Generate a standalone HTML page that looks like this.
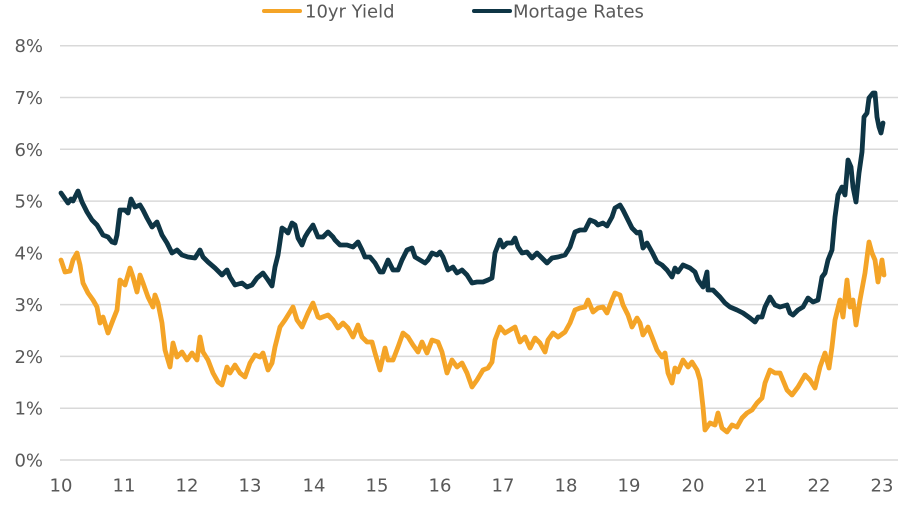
<!DOCTYPE html>
<html>
<head>
<meta charset="utf-8">
<style>
html,body{margin:0;padding:0;background:#fff;}
svg{display:block;}
text{font-family:"DejaVu Sans","Liberation Sans",sans-serif;font-size:18px;fill:#595959;}
</style>
</head>
<body>
<svg width="916" height="508" viewBox="0 0 916 508" xmlns="http://www.w3.org/2000/svg">
<g stroke="#d9d9d9" stroke-width="1.5">
<line x1="60" y1="45.7" x2="898" y2="45.7"/>
<line x1="60" y1="97.5" x2="898" y2="97.5"/>
<line x1="60" y1="149.3" x2="898" y2="149.3"/>
<line x1="60" y1="201.1" x2="898" y2="201.1"/>
<line x1="60" y1="252.9" x2="898" y2="252.9"/>
<line x1="60" y1="304.6" x2="898" y2="304.6"/>
<line x1="60" y1="356.4" x2="898" y2="356.4"/>
<line x1="60" y1="408.2" x2="898" y2="408.2"/>
<line x1="60" y1="460" x2="898" y2="460"/>
</g>
<g text-anchor="end">
<text x="43" y="52">8%</text>
<text x="43" y="104">7%</text>
<text x="43" y="156">6%</text>
<text x="43" y="207.5">5%</text>
<text x="43" y="259.5">4%</text>
<text x="43" y="311">3%</text>
<text x="43" y="363">2%</text>
<text x="43" y="414.5">1%</text>
<text x="43" y="466.5">0%</text>
</g>
<g text-anchor="middle">
<text x="61" y="491.5">10</text>
<text x="124" y="491.5">11</text>
<text x="187" y="491.5">12</text>
<text x="250" y="491.5">13</text>
<text x="314" y="491.5">14</text>
<text x="377" y="491.5">15</text>
<text x="440" y="491.5">16</text>
<text x="503" y="491.5">17</text>
<text x="566" y="491.5">18</text>
<text x="629" y="491.5">19</text>
<text x="693" y="491.5">20</text>
<text x="756" y="491.5">21</text>
<text x="819" y="491.5">22</text>
<text x="882" y="491.5">23</text>
</g>
<!-- legend -->
<line x1="264" y1="11" x2="300" y2="11" stroke="#F4A427" stroke-width="4" stroke-linecap="round"/>
<text x="305" y="17.5">10yr Yield</text>
<line x1="474" y1="11" x2="510" y2="11" stroke="#0E3545" stroke-width="4" stroke-linecap="round"/>
<text x="513" y="17.5">Mortage Rates</text>
<!-- series -->
<polyline fill="none" stroke="#F4A427" stroke-width="4.8" stroke-linejoin="round" stroke-linecap="round" points="61,260 65,272 70,271 73,260 77,253 80,265 83,283 88,293 93,300 97,307 100,323 103,317 108,333 113,320 117,310 120,280 125,285 130,268 133,277 137,292 140,275 143,283 148,297 153,307 155,295 158,303 162,323 165,350 170,367 173,343 177,357 182,352 187,360 192,353 197,360 200,337 203,352 208,360 213,373 218,382 222,385 227,367 230,373 235,365 240,373 245,377 250,363 255,355 260,357 263,353 268,370 272,363 275,347 280,327 285,320 290,312 293,307 297,320 302,327 308,313 313,303 318,317 320,318 328,315 333,320 338,328 343,323 348,328 353,337 358,325 362,337 367,342 372,342 375,353 380,370 385,348 388,360 393,360 398,347 403,333 408,337 413,345 418,352 422,342 427,353 432,340 438,342 442,352 447,373 452,360 457,367 462,363 467,373 472,387 477,380 483,370 488,368 492,362 495,340 500,327 505,333 510,330 515,327 520,342 525,337 530,348 535,338 540,343 545,352 548,340 553,333 558,337 565,332 570,323 575,310 580,308 585,307 588,300 593,312 598,308 603,307 607,313 612,300 615,293 620,295 623,305 628,315 632,327 637,318 640,323 643,335 648,327 652,337 657,350 662,357 665,353 668,373 672,383 675,368 678,372 683,360 688,367 692,362 697,370 700,380 703,407 705,430 710,423 715,425 718,413 722,428 727,432 732,425 737,427 742,418 747,413 752,410 757,403 762,398 765,383 770,370 775,373 780,373 787,390 792,395 798,387 805,375 810,380 815,388 820,367 825,353 829,368 832,347 835,320 840,300 843,317 847,280 850,307 853,300 856,325 860,300 865,273 869,242 872,253 875,260 878,282 882,260 884,275"/>
<polyline fill="none" stroke="#0E3545" stroke-width="4.8" stroke-linejoin="round" stroke-linecap="round" points="61,193 68,203 71,199 73,201 78,191 82,202 87,212 92,220 97,225 103,235 108,237 112,242 115,243 117,235 120,210 125,210 128,213 131,199 135,207 140,205 143,210 147,218 152,227 157,222 162,235 167,243 172,253 177,250 182,255 188,257 195,258 200,250 203,257 208,262 215,268 222,275 227,270 230,277 235,285 242,283 247,287 252,285 257,278 263,273 268,280 272,286 275,267 278,255 282,228 285,230 288,233 292,223 295,225 298,238 302,245 305,237 308,232 313,225 318,237 323,237 328,232 333,237 335,240 340,245 347,245 353,247 358,242 362,250 365,257 370,257 375,263 380,272 383,272 388,260 393,270 398,270 402,260 407,250 412,248 415,257 420,260 425,263 428,260 432,253 437,255 440,252 443,257 448,270 453,267 457,273 462,270 467,275 472,283 477,282 483,282 488,280 492,278 495,253 500,240 503,247 507,243 512,243 515,238 518,247 522,253 527,252 532,258 537,253 542,258 547,263 552,258 558,257 565,255 570,247 575,232 580,230 585,230 590,220 595,222 598,225 603,223 607,226 612,217 615,208 620,205 623,210 627,218 632,228 637,233 640,232 643,248 647,243 652,252 657,262 662,265 667,270 672,277 675,268 678,272 683,265 690,268 695,272 698,280 703,287 707,272 708,290 713,290 720,297 725,303 730,307 737,310 743,313 750,318 755,322 758,317 762,317 765,307 770,297 775,305 780,307 787,305 790,313 793,315 798,310 803,307 808,298 813,302 818,300 822,277 825,273 828,260 832,250 835,217 838,195 842,187 845,195 848,160 851,167 853,187 856,202 859,173 862,152 864,117 867,113 869,98 873,93 875,93 877,117 879,127 881,133 883,123"/>
</svg>
</body>
</html>
